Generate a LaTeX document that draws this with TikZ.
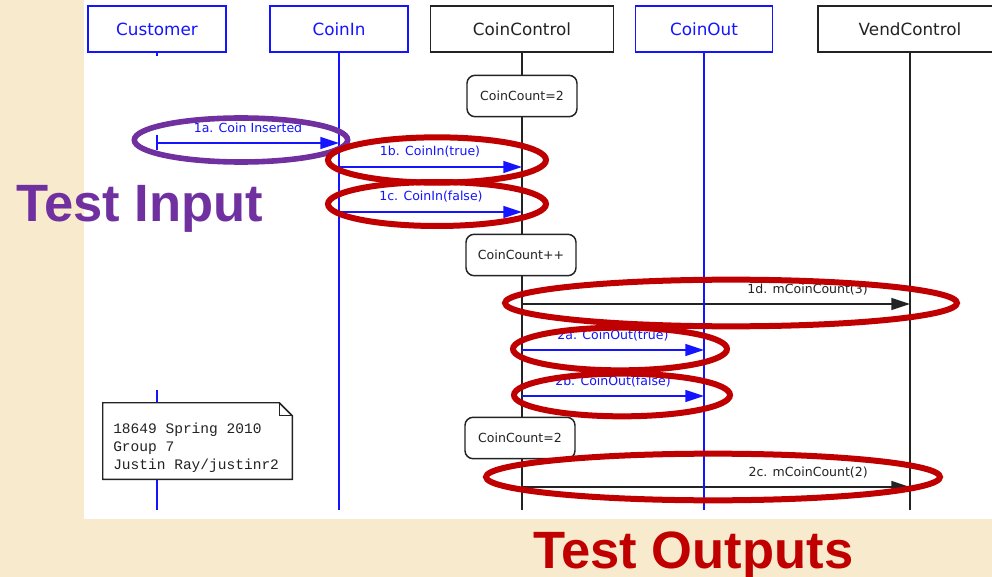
\documentclass[tikz,border=0pt]{standalone}
\usepackage{fontspec}
\setmainfont{DejaVu Sans}
\newfontfamily\bigfont{Liberation Sans}
\newfontfamily\notefont{Liberation Mono}
\usetikzlibrary{arrows.meta,calc}
\definecolor{bgbeige}{RGB}{248,234,204}
\definecolor{umlblue}{RGB}{20,20,255}
\definecolor{umlgray}{RGB}{35,35,35}
\definecolor{hlpurple}{RGB}{112,48,160}
\definecolor{hlred}{RGB}{192,0,0}
\tikzset{
  hdr/.style={draw, line width=1.1pt, fill=white, minimum height=34.5pt, inner sep=0pt, font=\fontsize{12.6}{14}\selectfont},
  hdrblue/.style={hdr, draw=umlblue, text=umlblue},
  hdrblack/.style={hdr, draw=umlgray, text=umlgray},
  lifeblue/.style={line width=1.1pt, draw=umlblue},
  lifeblack/.style={line width=1.1pt, draw=umlgray},
  statebox/.style={draw=umlgray, fill=white, rounded corners=6pt, line width=1.1pt, minimum width=82.5pt, minimum height=31pt, inner sep=0pt, text=umlgray, font=\fontsize{9.4}{11}\selectfont},
  msgblue/.style={draw=umlblue, line width=1.1pt, -{Triangle[length=14pt,width=9pt]}},
  msgblack/.style={draw=umlgray, line width=1.1pt, -{Triangle[length=14pt,width=9pt]}},
  lblblue/.style={font=\fontsize{9.4}{11}\selectfont, inner sep=0pt, text=umlblue},
  lblblack/.style={font=\fontsize{9.4}{11}\selectfont, inner sep=0pt, text=umlgray},
  notebox/.style={fill=white, draw=none, minimum width=141.75pt, minimum height=57pt, inner sep=0pt},
  notetext/.style={font=\notefont\fontsize{10.9}{13}\selectfont, inner sep=0pt, anchor=base west, text=umlgray},
  ringpurple/.style={draw=hlpurple, line width=4.2pt},
  ringred/.style={draw=hlred, line width=4.5pt},
  bigpurple/.style={font=\bigfont\bfseries\fontsize{39.4}{44}\selectfont, text=hlpurple, inner sep=0pt, anchor=base west},
  bigred/.style={font=\bigfont\bfseries\fontsize{39.4}{44}\selectfont, text=hlred, inner sep=0pt, anchor=base west}
}
\begin{document}
\begin{tikzpicture}[x=0.75pt,y=-0.75pt]
\useasboundingbox (0,0) rectangle (992,577);
\clip (0,0) rectangle (992,577);
% backgrounds
\fill[bgbeige] (0,0) rectangle (992,577);
\fill[white] (84,0) rectangle (992,519);

% header nodes
\node[hdrblue, minimum width=103.5pt] (cust) at (157,29) {Customer};
\node[hdrblue, minimum width=103.5pt] (coinin) at (339,29) {CoinIn};
\node[hdrblack, minimum width=137.25pt] (cctrl) at (522,29) {CoinControl};
\node[hdrblue, minimum width=102.75pt] (coinout) at (704,29) {CoinOut};
\node[hdrblack, minimum width=138pt] (vend) at (910,29) {VendControl};

% lifeline ends
\coordinate (custA) at (157,56);
\coordinate (custB1) at (157,135);
\coordinate (custB2) at (157,150);
\coordinate (custC1) at (157,390);
\coordinate (custE) at (157,510);
\coordinate (coininE) at (339,510);
\coordinate (cctrlE) at (522,510);
\coordinate (coinoutE) at (704,510);
\coordinate (vendE) at (910,510);

\draw[lifeblue] (cust.south) -- (custA);
\draw[lifeblue] (custB1) -- (custB2);
\draw[lifeblue] (custC1) -- (custE);
\draw[lifeblue] (coinin.south) -- (coininE);
\draw[lifeblack] (cctrl.south) -- (cctrlE);
\draw[lifeblack] (vend.south) -- (vendE);

% message levels
\coordinate (y1a) at (0,143);
\coordinate (y1b) at (0,167);
\coordinate (y1c) at (0,212);
\coordinate (y1d) at (0,304);
\coordinate (y2a) at (0,350);
\coordinate (y2b) at (0,396);
\coordinate (y2c) at (0,487);

\draw[msgblack] (cctrl |- y1d) -- (vend |- y1d);
\draw[msgblack] (cctrl |- y2c) -- (vend |- y2c);
\draw[lifeblue] (coinout.south) -- (coinoutE);

% state boxes
\node[statebox] (s1) at (522,96) {CoinCount=2};
\node[statebox] (s2) at (521,255) {CoinCount++};
\node[statebox] (s3) at (520,438) {CoinCount=2};

% messages
\draw[msgblue] (cust |- y1a) -- (coinin |- y1a);
\draw[msgblue] (coinin |- y1b) -- (cctrl |- y1b);
\draw[msgblue] (coinin |- y1c) -- (cctrl |- y1c);
\draw[msgblue] (cctrl |- y2a) -- (coinout |- y2a);
\draw[msgblue] (cctrl |- y2b) -- (coinout |- y2b);

% labels
\node[lblblue, anchor=base] (l1a) at (248,133) {1a. Coin Inserted};
\node[lblblue, anchor=base] (l1b) at (430,156) {1b. CoinIn(true)};
\node[lblblue, anchor=base] (l1c) at (431,201) {1c. CoinIn(false)};
\node[lblblack, anchor=base east] (l1d) at (868,293) {1d. mCoinCount(3)};
\node[lblblue, anchor=base] (l2a) at (613,339) {2a. CoinOut(true)};
\node[lblblue, anchor=base] (l2b) at (613,385) {2b. CoinOut(false)};
\node[lblblack, anchor=base east] (l2c) at (868,476) {2c. mCoinCount(2)};

% note
\node[notebox] (note) at (197.5,441) {};
\draw[umlgray, line width=1.1pt, line join=miter]
  (note.north west) -- ($(note.north east)+(-13,0)$) -- ($(note.north east)+(0,13)$)
  -- (note.south east) -- (note.south west) -- cycle;
\draw[umlgray, line width=0.8pt]
  ($(note.north east)+(-13,0)$) -- ($(note.north east)+(-13,13)$) -- ($(note.north east)+(0,13)$);
\node[notetext] (n1) at (113,433) {18649 Spring 2010};
\node[notetext] (n2) at (113,451) {Group 7};
\node[notetext] (n3) at (113,469) {Justin Ray/justinr2};

% highlight rings
\draw[ringpurple] (241,140) ellipse [x radius=80pt, y radius=16.5pt];
\draw[ringred] (437,160) ellipse [x radius=81.75pt, y radius=17pt];
\draw[ringred] (437,204) ellipse [x radius=81.75pt, y radius=16.5pt];
\draw[ringred] (731,303) ellipse [x radius=169.5pt, y radius=17.5pt];
\draw[ringred] (620,349) ellipse [x radius=80.25pt, y radius=16pt];
\draw[ringred] (622,395) ellipse [x radius=81pt, y radius=16pt];
\draw[ringred] (713,477) ellipse [x radius=170.25pt, y radius=17.5pt];

% big captions
\node[bigpurple] (tin) at (16,222) {Test Input};
\node[bigred] (tout) at (533,568) {Test Outputs};
\end{tikzpicture}
\end{document}
